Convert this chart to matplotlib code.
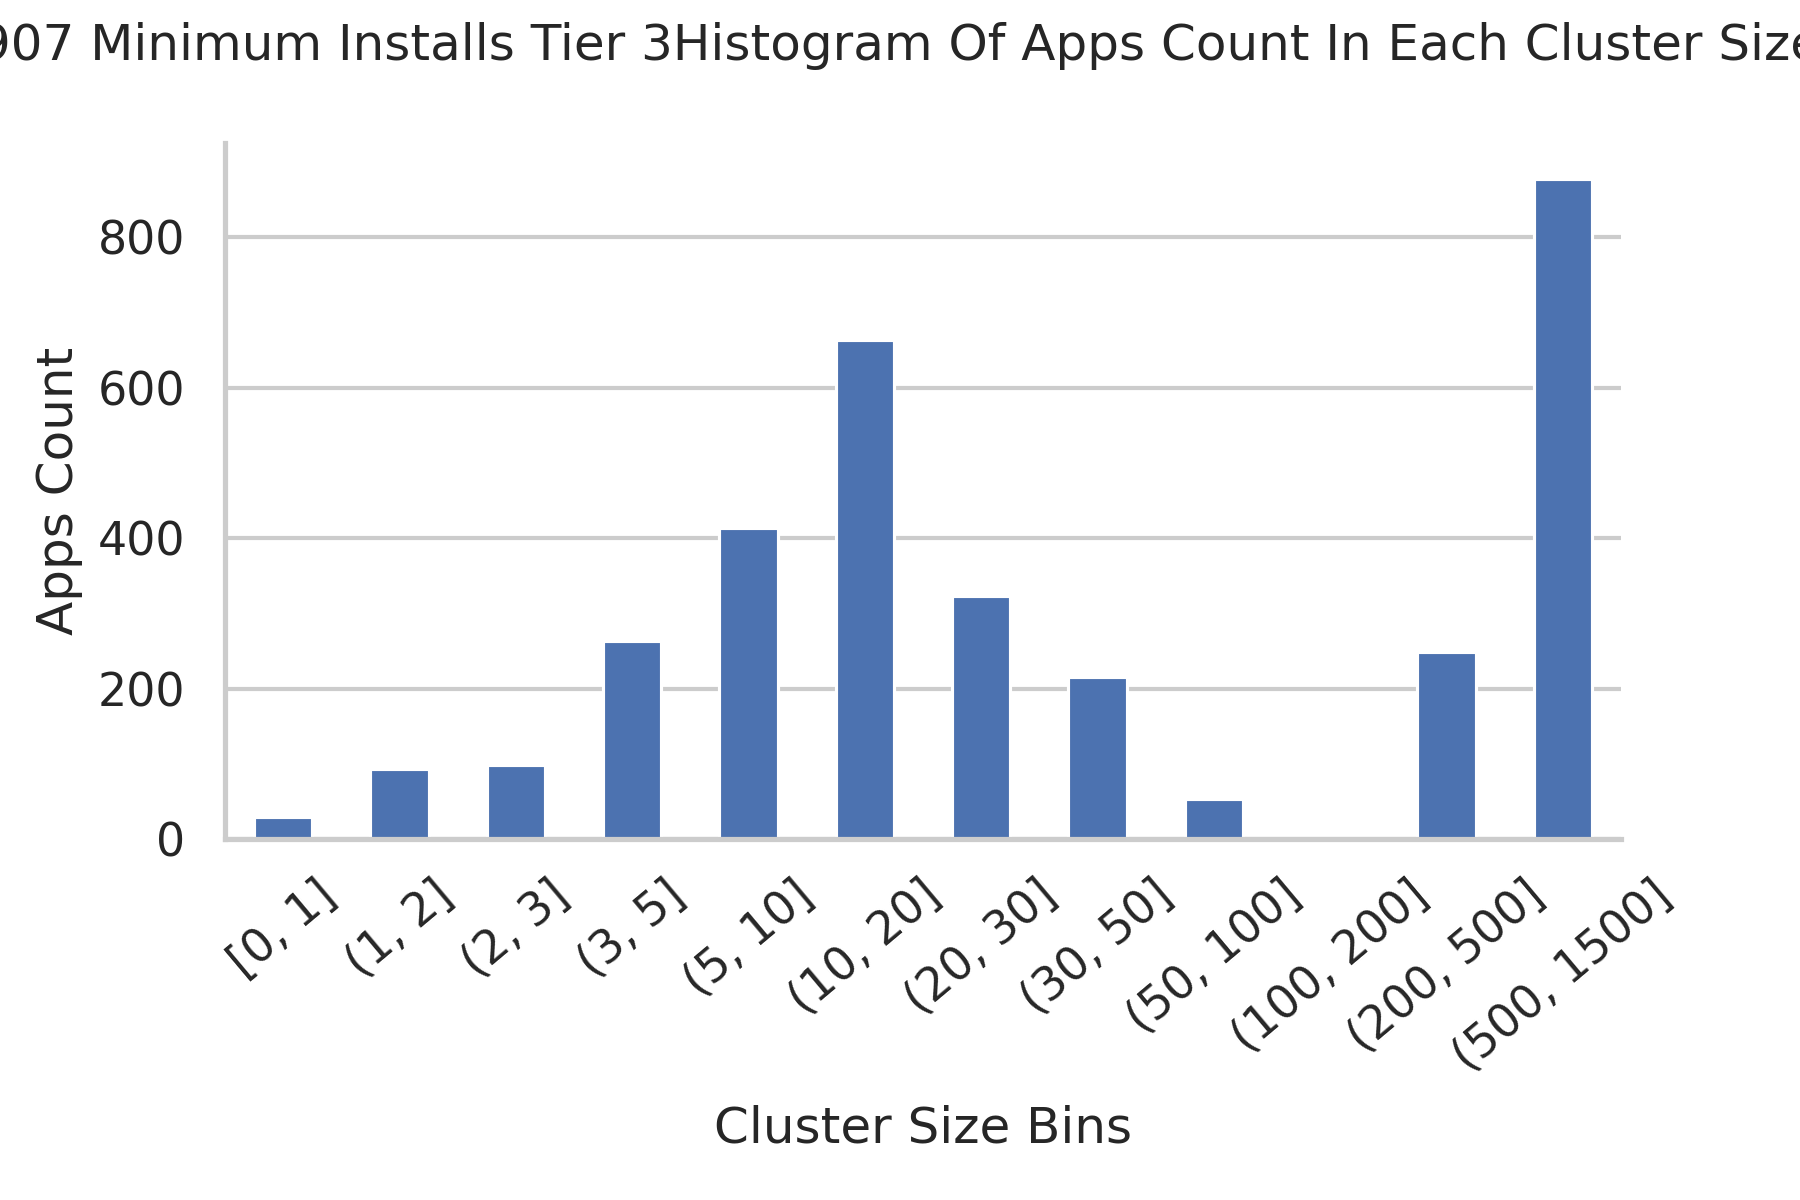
import matplotlib
matplotlib.use("Agg")
import matplotlib.pyplot as plt
import seaborn as sns

sns.set_theme(style="whitegrid")
plt.rcParams['font.family'] = ['DejaVu Sans']

bins = ["[0, 1]", "(1, 2]", "(2, 3]", "(3, 5]", "(5, 10]", "(10, 20]", "(20, 30]",
        "(30, 50]", "(50, 100]", "(100, 200]", "(200, 500]", "(500, 1500]"]
apps_count = [29, 93, 99, 263, 413, 663, 323, 215, 53, 0, 248, 877]
title = "907 Minimum Installs Tier 3Histogram Of Apps Count In Each Cluster Size"

fig = plt.figure(figsize=(12, 8), dpi=150)
ax = fig.add_axes([225/1800, 1 - 839/1200, (1621-225)/1800, (839-143)/1200])

x = list(range(len(bins)))
ax.bar(x, apps_count, width=0.5, color="#4c72b0", edgecolor="white", linewidth=1.5, zorder=2)
ax.set_xlim(-0.5, len(bins) - 0.5)
ax.set_ylim(0, max(apps_count) * 1.055)
ax.set_yticks([0, 200, 400, 600, 800])
ax.set_xticks(x)
ax.set_xticklabels(bins, rotation=40, ha="center", fontsize=22)
ax.tick_params(axis="y", labelsize=22, length=0, pad=19)
ax.tick_params(axis="x", length=0, pad=16)
ax.grid(axis="x", visible=False)
ax.grid(axis="y", color="#cccccc", linewidth=2)
ax.set_axisbelow(True)
for s in ["top", "right"]:
    ax.spines[s].set_visible(False)
for s in ["left", "bottom"]:
    ax.spines[s].set_color("#cccccc")
    ax.spines[s].set_linewidth(2.5)
ax.set_xlabel("Cluster Size Bins", fontsize=24, labelpad=12)
ax.set_ylabel("Apps Count", fontsize=24, labelpad=7)

fig.text(0.5, 1 - 46/1200, title, ha="center", va="center", fontsize=24, color="#262626")

fig.savefig("out.png", dpi=150)
